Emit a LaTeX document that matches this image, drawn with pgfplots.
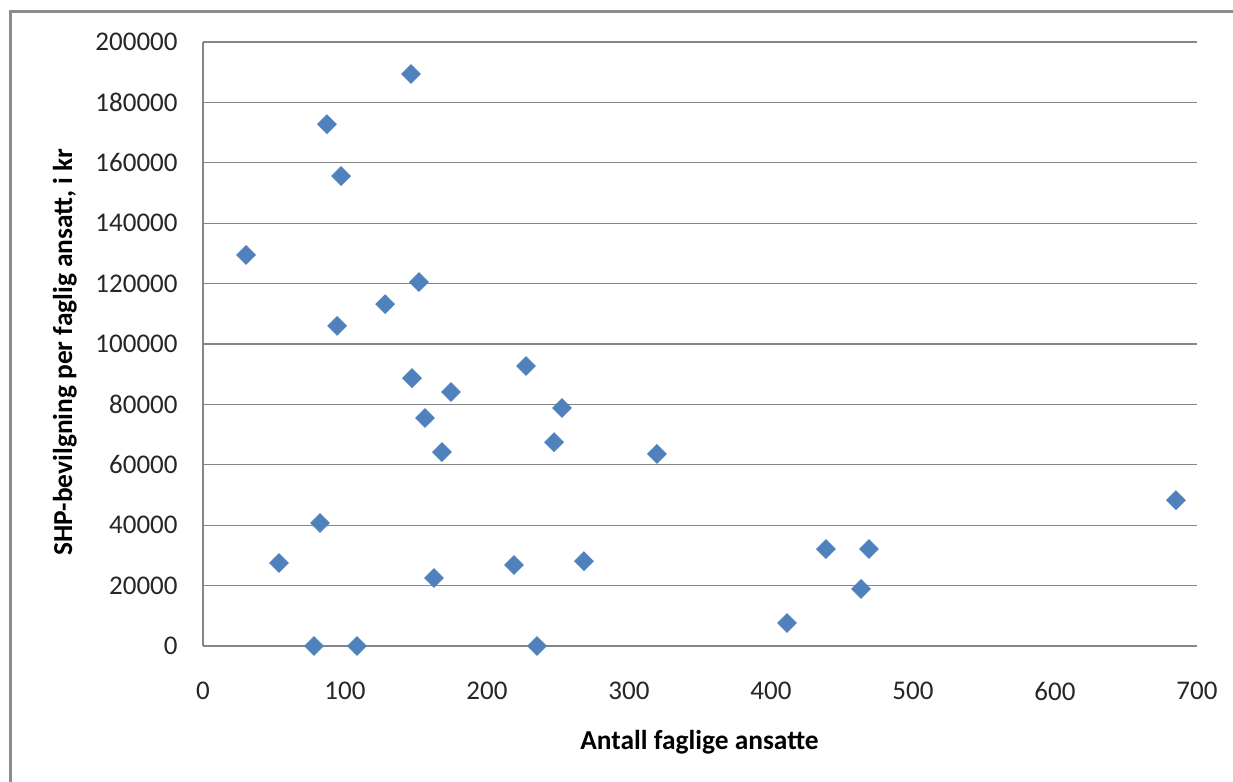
\documentclass[border=0pt]{standalone}
\usepackage{pgfplots}
\pgfplotsset{compat=1.18}
\usepackage{fontspec}
\setmainfont{Carlito}
\definecolor{excelblue}{HTML}{4F81BD}
\definecolor{gridgray}{HTML}{868686}
\definecolor{framegray}{HTML}{8C8C8C}
\begin{document}
\begin{tikzpicture}
\useasboundingbox (0,0) rectangle (616.5pt,391pt);
\fill[white] (0,0) rectangle (616.5pt,391pt);
\draw[framegray, line width=1.5pt] (5.25pt,0) -- (5.25pt,385pt) -- (616.5pt,385pt);
\begin{axis}[
  at={(101.5pt,68pt)}, anchor=south west,
  scale only axis,
  width=497pt, height=302pt,
  xmin=0, xmax=700, ymin=0, ymax=200000,
  xtick={0,100,...,700}, ytick={0,20000,...,200000},
  axis lines*=left,
  axis line style={gridgray, line width=0.6pt},
  ymajorgrids, grid style={gridgray, line width=0.6pt},
  major tick length=0pt,
  scaled ticks=false,
  /pgf/number format/fixed,
  /pgf/number format/precision=0,
  /pgf/number format/assume math mode=true,
  /pgf/number format/1000 sep={},
  tick label style={font=\fontsize{13.5pt}{16pt}\selectfont, text=black!85},
  xticklabel style={inner sep=0pt, anchor=north, yshift=-18pt},
  yticklabel style={inner sep=0pt, anchor=east, xshift=-12.5pt},
  xlabel={Antall faglige ansatte},
  ylabel={SHP-bevilgning per faglig ansatt, i kr},
  label style={font=\bfseries\fontsize{13.7pt}{16pt}\selectfont},
  xlabel style={at={(axis description cs:0.4995,-0.159)}, anchor=center},
  ylabel style={at={(axis description cs:-0.139,0.487)}, anchor=center},
  clip=false,
]
\addplot[only marks, mark=square*, mark size=3.3pt,
  mark options={rotate=45, fill=excelblue, draw=excelblue}]
coordinates {
(30.3,129500) (53.5,27500) (87.3,172800) (97.2,155600) (94.4,106000)
(82.4,40700) (78.2,0) (108.5,0) (146.5,189400) (152.1,120500)
(128.2,113200) (147.2,88700) (174.6,84100) (156.3,75500) (168.3,64200)
(162.7,22500) (227.5,92700) (252.8,78800) (247.2,67500) (219.0,26800)
(268.3,28100) (235.2,0) (319.7,63600) (411.3,7600) (438.7,32100)
(469.0,32100) (463.4,18900) (685.2,48300)
};
\end{axis}
\end{tikzpicture}
\end{document}
